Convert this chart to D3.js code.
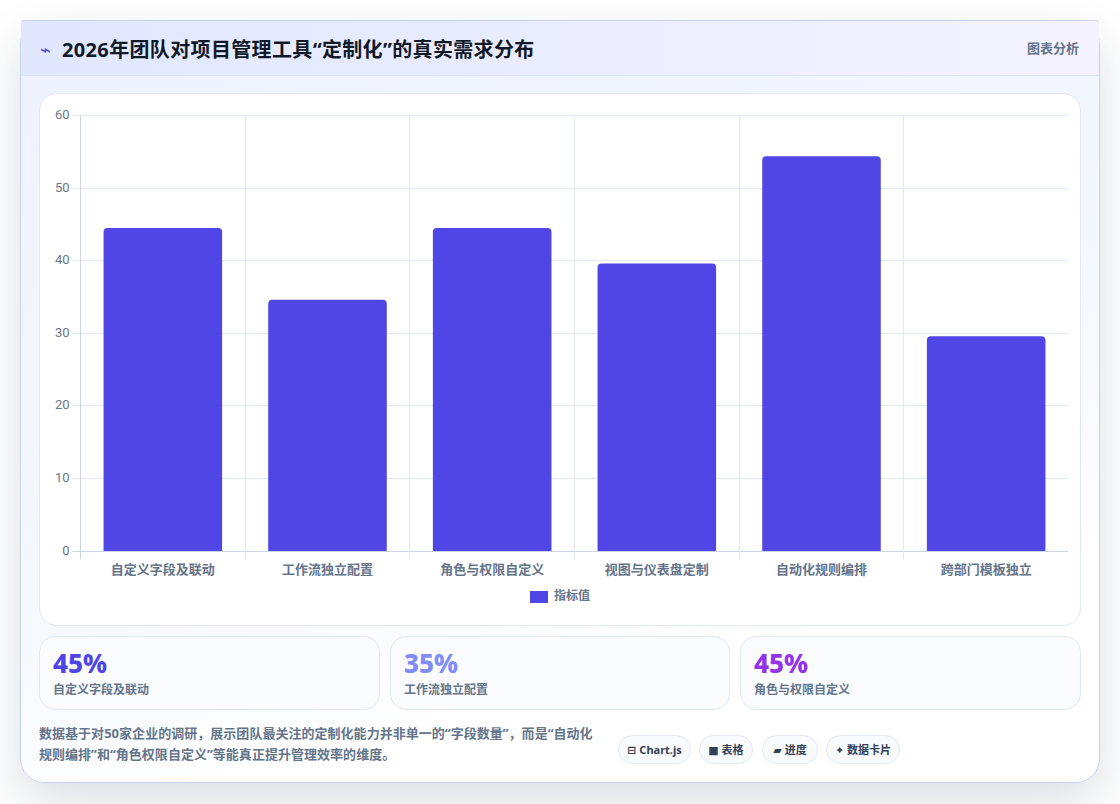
<!DOCTYPE html>
<html lang="zh-CN"><head><meta charset="utf-8">
<script src="https://cdn.jsdelivr.net/npm/d3@7/dist/d3.min.js"></script>
<style>
*{box-sizing:border-box}
html,body{margin:0;padding:0;width:1120px;height:804px;overflow:hidden;background:#fff;font-family:"Noto Sans","Noto Sans CJK SC",sans-serif}
.abs{position:absolute}
#card{left:20px;top:20px;width:1080px;height:763px;border-radius:24px;border:1px solid #c7d2f0;background:linear-gradient(165deg,#eef2ff 0%,#f6f9ff 60%,#ffffff 78%);box-shadow:0 20px 50px rgba(30,40,70,.15);}
#head{left:21px;top:20px;width:1078px;height:56px;background:linear-gradient(90deg,#e0e7ff,#f5f3ff);border-bottom:1px solid #dbe5f7;border-top:1px solid #c7d2f0;border-radius:3px 3px 0 0}
#title{left:62px;top:35px;font-size:20px;font-weight:700;color:#111827;line-height:30px;white-space:nowrap;letter-spacing:.35px}
#bolt{left:40px;top:38px;font:18px/24px "DejaVu Sans",sans-serif;color:#4f46e5}
#tag{left:1027px;top:38px;font-size:13px;font-weight:700;color:#64748b;line-height:20px;white-space:nowrap}
#panel{left:39px;top:93px;width:1042px;height:533px;border-radius:18px;border:1px solid #e2e8f4;background:#fff}
svg{position:absolute;left:0;top:0}
.stat{top:636px;height:74px;border-radius:16px;border:1px solid #dfe8f8;background:#fafcff}
.stat b{position:absolute;left:13px;top:8px;font:800 26px/36px "Noto Sans","Noto Sans CJK SC",sans-serif}
.stat span{position:absolute;left:13px;top:44px;font-size:12px;font-weight:600;color:#64748b;line-height:18px;white-space:nowrap}
#note{left:39px;top:723px;width:560px;font-size:13px;font-weight:700;color:#64748b;line-height:21px;letter-spacing:.03px}
.pill{top:735px;height:29px;border-radius:15px;border:1px solid #e2e8f4;background:#f8fafc;font:700 11px/27px "Noto Sans","DejaVu Sans","Noto Sans CJK SC",sans-serif;color:#334155;text-align:center;white-space:nowrap}
</style></head><body>
<div class="abs" id="card"></div><div class="abs" id="head"></div>
<div class="abs" id="bolt"></div><div class="abs" id="title"></div><div class="abs" id="tag"></div>
<div class="abs" id="panel"></div>
<svg id="chart" width="1120" height="804"></svg>
<div id="stats"></div><div class="abs" id="note"></div><div id="pills"></div>
<script>
const titleText="2026年团队对项目管理工具“定制化”的真实需求分布";
const iconText="⌁";
const tagText="图表分析";
const categories=["自定义字段及联动","工作流独立配置","角色与权限自定义","视图与仪表盘定制","自动化规则编排","跨部门模板独立"];
const values=[44.5,34.6,44.5,39.6,54.4,29.6];
const yTicks=[0,10,20,30,40,50,60];
const legendLabel="指标值";
const statValues=["45%","35%","45%"];
const statLabels=["自定义字段及联动","工作流独立配置","角色与权限自定义"];
const statColors=["#4f46e5","#818cf8","#9333ea"];
const noteLines=["数据基于对50家企业的调研，展示团队最关注的定制化能力并非单一的“字段数量”，而是“自动化","规则编排”和“角色权限自定义”等能真正提升管理效率的维度。"];
const pillLabels=["⊟ Chart.js","■ 表格","▰ 进度","✦ 数据卡片"];
const pillLefts=[618,699,762,826];
const pillWidths=[73,54,56,74];
const statLefts=[39,390,740];
const statWidths=[341,340,341];

d3.select("#title").text(titleText);
d3.select("#bolt").text(iconText);
d3.select("#tag").text(tagText);

const L=80.5,R=1068.5,T=115.5,B=551;
const x=d3.scaleBand().domain(categories).range([L,R]);
const y=d3.scaleLinear().domain([0,60]).range([B,T]);
const svg=d3.select("#chart");
const grid="#e2e8f0",font="Roboto,'Noto Sans CJK SC',sans-serif";

svg.append("g").selectAll("line").data(yTicks).join("line")
 .attr("x1",L-8).attr("x2",R).attr("y1",d=>Math.floor(y(d))+.5).attr("y2",d=>Math.floor(y(d))+.5)
 .attr("stroke",d=>d===0?"#cbd5e1":grid);
svg.append("g").selectAll("line").data(categories).join("line")
 .attr("x1",d=>Math.floor(x(d))+.5).attr("x2",d=>Math.floor(x(d))+.5).attr("y1",T).attr("y2",B+8)
 .attr("stroke",(d,i)=>i===0?"#cbd5e1":grid);

const bw=x.bandwidth()*0.72;
const barPath=d=>{const l=x(d.c)+(x.bandwidth()-bw)/2,t=y(d.v),r=4,w=bw,b=y(0);
 const p=d3.path();p.moveTo(l,b);p.lineTo(l,t+r);p.arcTo(l,t,l+r,t,r);p.lineTo(l+w-r,t);p.arcTo(l+w,t,l+w,t+r,r);p.lineTo(l+w,b);p.closePath();return p.toString();};
svg.append("g").selectAll("path").data(categories.map((c,i)=>({c,v:values[i]}))).join("path")
 .attr("d",barPath).attr("fill","#4f46e5");

svg.append("g").selectAll("text").data(yTicks).join("text")
 .attr("x",L-11).attr("y",d=>y(d)+3.5).attr("text-anchor","end")
 .attr("font-family",font).attr("font-size",13).attr("fill","#6b7788").text(d=>d);
svg.append("g").selectAll("text").data(categories).join("text")
 .attr("x",d=>x(d)+x.bandwidth()/2).attr("y",574).attr("text-anchor","middle")
 .attr("font-family","'Noto Sans CJK SC',sans-serif").attr("font-size",13).attr("font-weight",600).attr("fill","#64748b").text(d=>d);

svg.append("rect").attr("x",530).attr("y",591).attr("width",18).attr("height",12).attr("fill","#4f46e5");
svg.append("text").attr("x",554).attr("y",600).attr("font-family","'Noto Sans CJK SC',sans-serif").attr("font-size",12).attr("font-weight",600).attr("fill","#64748b").text(legendLabel);

const st=d3.select("#stats").selectAll("div").data(statValues).join("div").attr("class","abs stat")
 .style("left",(d,i)=>statLefts[i]+"px").style("width",(d,i)=>statWidths[i]+"px");
st.append("b").style("color",(d,i)=>statColors[i]).text(d=>d);
st.append("span").text((d,i)=>statLabels[i]);

d3.select("#note").selectAll("div").data(noteLines).join("div").style("white-space","nowrap").text(d=>d);
d3.select("#pills").selectAll("div").data(pillLabels).join("div").attr("class","abs pill")
 .style("left",(d,i)=>pillLefts[i]+"px").style("width",(d,i)=>pillWidths[i]+"px").text(d=>d);
</script></body></html>
